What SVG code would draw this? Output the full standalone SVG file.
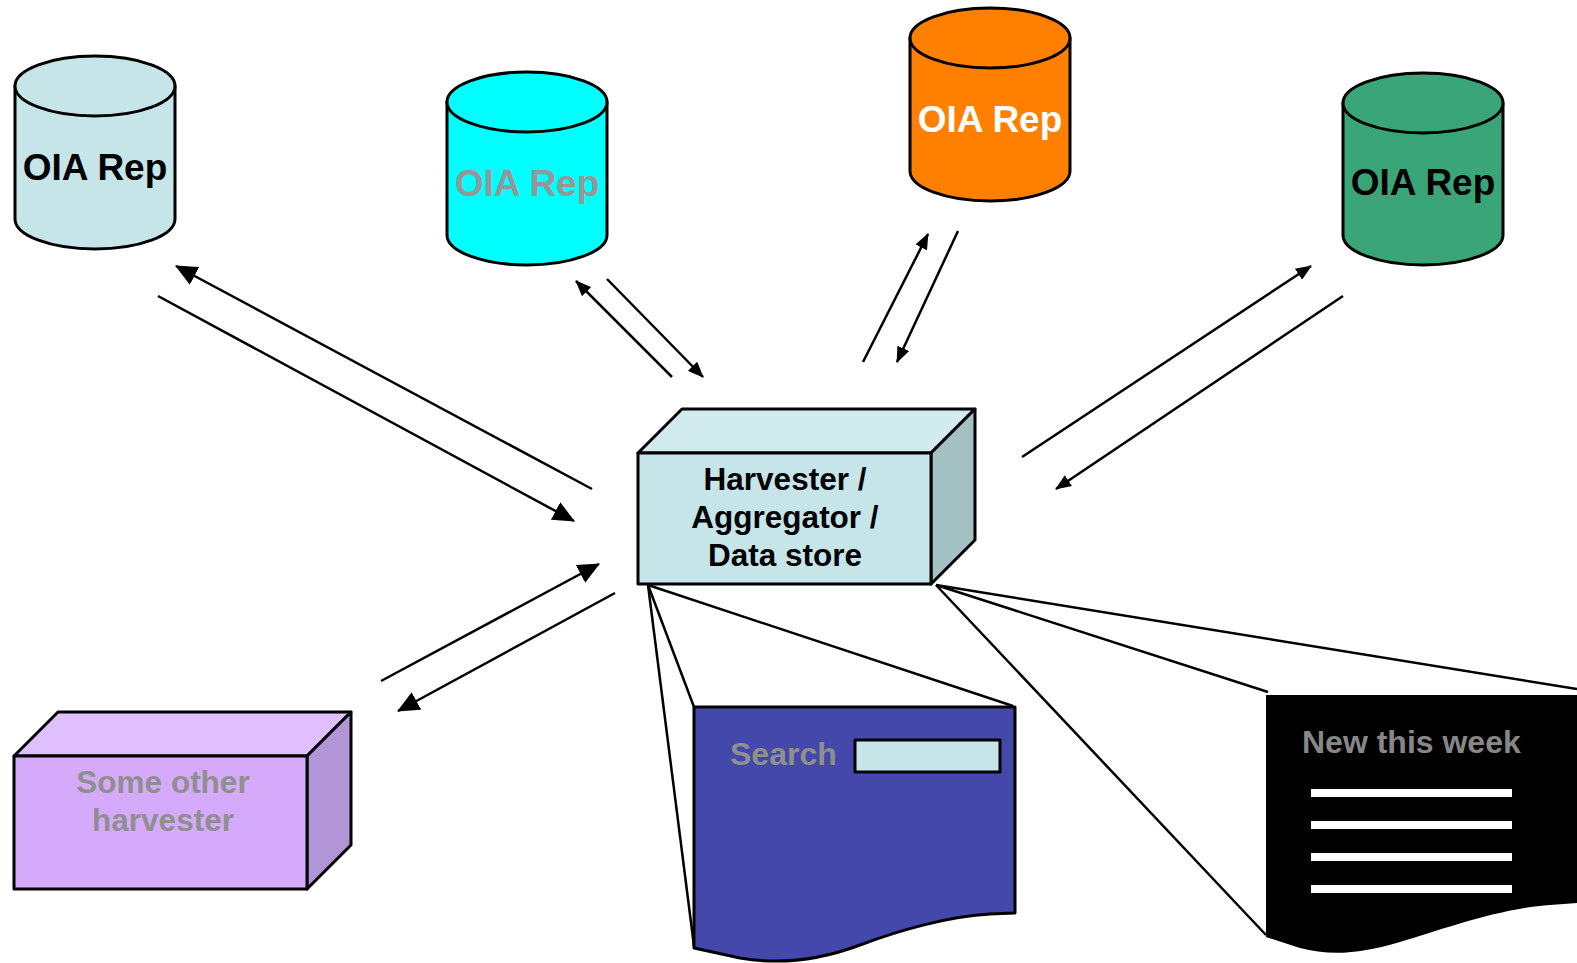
<svg xmlns="http://www.w3.org/2000/svg" width="1577" height="963" viewBox="0 0 1577 963">
<style>
.s{stroke:#000;stroke-width:3;stroke-linejoin:round}
.t{font-family:"Liberation Sans",Arial,sans-serif;font-weight:bold;text-anchor:middle}
.c{fill:none;stroke:#000;stroke-width:2.5}
.big{marker-end:url(#ab)}
.sm{marker-end:url(#as)}
</style>
<defs>
<marker id="ab" viewBox="0 0 22 20" refX="21" refY="10" markerWidth="22" markerHeight="20" markerUnits="userSpaceOnUse" orient="auto"><path d="M0,0 L22,10 L0,20 Z" fill="#000"/></marker>
<marker id="as" viewBox="0 0 16 13" refX="15" refY="6.5" markerWidth="16" markerHeight="13" markerUnits="userSpaceOnUse" orient="auto"><path d="M0,0 L16,6.5 L0,13 Z" fill="#000"/></marker>
</defs>
<rect width="1577" height="963" fill="#fff"/>

<g id="connectors">
<line class="c big" x1="592" y1="489" x2="176" y2="266"/>
<line class="c big" x1="158" y1="296" x2="574" y2="521"/>
<line class="c sm" x1="672" y1="377" x2="576" y2="281"/>
<line class="c sm" x1="607" y1="279" x2="703" y2="377"/>
<line class="c sm" x1="863" y1="362" x2="928" y2="234"/>
<line class="c sm" x1="958" y1="231" x2="897" y2="362"/>
<line class="c sm" x1="1022" y1="457" x2="1311" y2="266"/>
<line class="c sm" x1="1343" y1="296" x2="1056" y2="489"/>
<line class="c big" x1="381" y1="681" x2="599" y2="564"/>
<line class="c big" x1="615" y1="593" x2="398" y2="711"/>
<line class="c" x1="648" y1="585" x2="694" y2="707"/>
<line class="c" x1="648" y1="585" x2="694" y2="946"/>
<line class="c" x1="648" y1="585" x2="1013" y2="706"/>
<line class="c" x1="936" y1="585" x2="1268" y2="692"/>
<line class="c" x1="936" y1="585" x2="1577" y2="689"/>
<line class="c" x1="936" y1="585" x2="1266" y2="935"/>
</g>

<g id="rep1">
<path class="s" d="M15,86 L15,219 A80,30 0 0 0 175,219 L175,86 Z" fill="#C6E5E8"/>
<ellipse class="s" cx="95" cy="86" rx="80" ry="30" fill="#C6E5E8"/>
<text class="t" x="95" y="180" font-size="37" fill="#000">OIA Rep</text>
</g>
<g id="rep2">
<path class="s" d="M447,102 L447,235 A80,30 0 0 0 607,235 L607,102 Z" fill="#00FFFF"/>
<ellipse class="s" cx="527" cy="102" rx="80" ry="30" fill="#00FFFF"/>
<text class="t" x="527" y="196" font-size="37" fill="#969696">OIA Rep</text>
</g>
<g id="rep3">
<path class="s" d="M910,38 L910,171 A80,30 0 0 0 1070,171 L1070,38 Z" fill="#FF7F00"/>
<ellipse class="s" cx="990" cy="38" rx="80" ry="30" fill="#FF7F00"/>
<text class="t" x="990" y="132" font-size="37" fill="#fff">OIA Rep</text>
</g>
<g id="rep4">
<path class="s" d="M1343,103 L1343,235 A80,30 0 0 0 1503,235 L1503,103 Z" fill="#3BA57A"/>
<ellipse class="s" cx="1423" cy="103" rx="80" ry="30" fill="#3BA57A"/>
<text class="t" x="1423" y="195" font-size="37" fill="#000">OIA Rep</text>
</g>

<g id="harvester">
<path class="s" d="M638,453 L682,409 L975,409 L931,453 Z" fill="#D2EBEE"/>
<path class="s" d="M931,453 L975,409 L975,540 L931,584 Z" fill="#A4C1C4"/>
<rect class="s" x="638" y="453" width="293" height="131" fill="#C6E5E8"/>
<text class="t" font-size="31.5" fill="#000"><tspan x="785" y="490">Harvester /</tspan><tspan x="785" y="528">Aggregator /</tspan><tspan x="785" y="566">Data store</tspan></text>
</g>

<g id="other">
<path class="s" d="M14,756 L58,712 L351,712 L307,756 Z" fill="#DFBFFD"/>
<path class="s" d="M307,756 L351,712 L351,845 L307,889 Z" fill="#B295D7"/>
<rect class="s" x="14" y="756" width="293" height="133" fill="#D5AAFA"/>
<text class="t" font-size="31.5" fill="#8F8F8F"><tspan x="163" y="793">Some other</tspan><tspan x="163" y="831">harvester</tspan></text>
</g>

<g id="search">
<path class="s" d="M694,707 L1015,707 L1015,913 L990,914 C950,916 900,930 860,945 C820,960 780,965 740,958 L694,948 Z" fill="#4448AA"/>
<text x="730" y="765" font-family="Liberation Sans, Arial, sans-serif" font-weight="bold" font-size="32" fill="#8F8F8F">Search</text>
<rect class="s" x="855" y="740" width="145" height="32" fill="#C6E5E8"/>
</g>

<g id="newweek">
<path d="M1266,695 L1577,695 L1577,903 L1550,905 C1500,908 1440,930 1400,942 C1360,954 1330,956 1300,948 L1266,937 Z" fill="#000"/>
<text x="1302" y="753" font-family="Liberation Sans, Arial, sans-serif" font-weight="bold" font-size="32" fill="#878787">New this week</text>
<g fill="#fff">
<rect x="1311" y="789" width="201" height="8"/>
<rect x="1311" y="821" width="201" height="8"/>
<rect x="1311" y="853" width="201" height="8"/>
<rect x="1311" y="885" width="201" height="8"/>
</g>
</g>
</svg>
